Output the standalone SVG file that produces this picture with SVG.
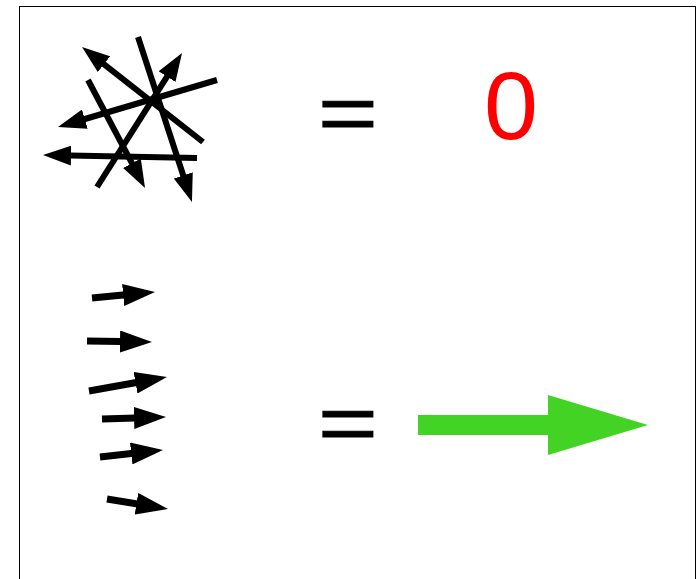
<svg xmlns="http://www.w3.org/2000/svg" width="697" height="579" viewBox="0 0 697 579">
<style>
.sb{stroke:#000;stroke-width:6;fill:none;marker-end:url(#h1)}
.sm{stroke:#000;stroke-width:7;fill:none;marker-end:url(#h2)}
.eq{font-family:"Liberation Sans",Arial,sans-serif;font-size:80px;fill:#000;stroke:#000;stroke-width:1}
</style>
<defs>
<marker id="h1" markerUnits="userSpaceOnUse" viewBox="0 0 28 20" markerWidth="28" markerHeight="20" refX="14" refY="10" orient="auto"><path d="M0,0 L28,10 L0,20 z" fill="#000"/></marker>
<marker id="h2" markerUnits="userSpaceOnUse" viewBox="0 0 32 22" markerWidth="32" markerHeight="22" refX="18" refY="11" orient="auto"><path d="M0,0 L32,11 L0,22 z" fill="#000"/></marker>
</defs>
<rect x="19.5" y="6.5" width="676" height="620" fill="#fff" stroke="#000" stroke-width="1"/>
<g id="connectors">
<g id="starburst">
<line class="sb" x1="203" y1="142" x2="93" y2="55.6"/>
<line class="sb" x1="138" y1="37" x2="187.6" y2="188.7"/>
<line class="sb" x1="217" y1="80" x2="71.4" y2="123"/>
<line class="sb" x1="97" y1="187" x2="174.5" y2="64.8"/>
<line class="sb" x1="88" y1="80" x2="138.5" y2="175.6"/>
<line class="sb" x1="197" y1="158" x2="57" y2="155.3"/>
</g>
<g id="aligned">
<line class="sm" x1="92" y1="298" x2="141.1" y2="293.3"/>
<line class="sm" x1="87" y1="341" x2="138" y2="341.8"/>
<line class="sm" x1="89" y1="391" x2="153.2" y2="379.5"/>
<line class="sm" x1="102" y1="419" x2="152" y2="417.4"/>
<line class="sm" x1="100" y1="457" x2="149.1" y2="451.5"/>
<line class="sm" x1="107" y1="499" x2="154.2" y2="506.7"/>
</g>
</g>
<g id="eq1"><text class="eq" transform="translate(318,140) scale(1.28,1)">=</text></g>
<g id="zero"><text x="511" y="139" text-anchor="middle" font-family="Liberation Sans,Arial,sans-serif" font-size="97" fill="#ff0000">0</text></g>
<g id="eq2"><text class="eq" transform="translate(318,449.5) scale(1.28,1)">=</text></g>
<g id="result"><polygon points="418,415 548,415 548,395 648,425 548,455 548,435 418,435" fill="#43d324"/></g>
</svg>
